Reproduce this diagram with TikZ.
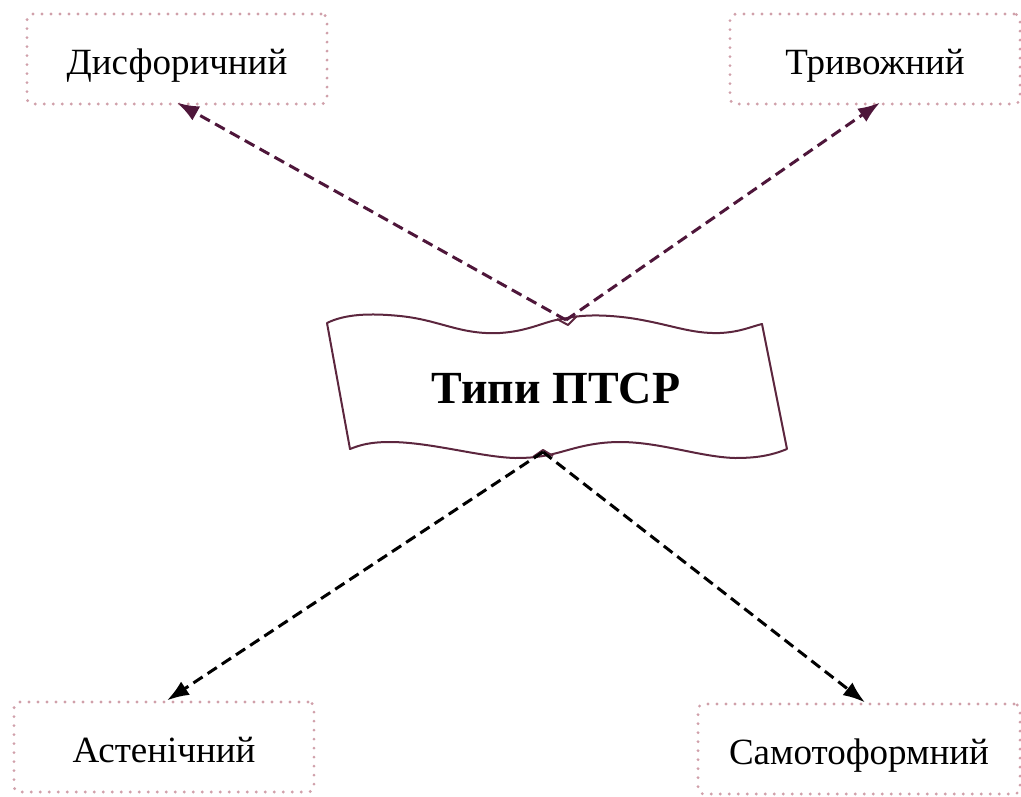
\documentclass[tikz,border=0pt]{standalone}
\usepackage{fontspec}
\setmainfont{Liberation Serif}
\usetikzlibrary{arrows.meta}
\definecolor{wine}{RGB}{78,22,58}
\definecolor{dotpink}{RGB}{208,160,170}
\definecolor{tapeline}{RGB}{92,38,62}

\begin{document}
\begin{tikzpicture}[x=1pt, y=-1pt,
    box/.style={rectangle, rounded corners=6pt, draw=dotpink, line width=3.2pt,
                dash pattern=on 0pt off 9pt, line cap=round,
                minimum height=90pt, inner sep=0pt,
                font=\fontsize{37}{42}\selectfont, text height=31pt, text depth=0pt},
    tape/.style={draw=tapeline, line width=2pt, line join=round},
    arr/.style={-{Latex[length=22pt,width=16pt]}, line width=3pt,
                dash pattern=on 11pt off 6pt},
  ]
  \useasboundingbox (0,0) rectangle (1021,796);

  % wavy banner in the middle
  \draw[tape] (327,323) .. controls (345,314) and (370,313) .. (400,316)
      .. controls (440,320) and (460,335) .. (500,333)
      .. controls (530,331) and (545,321) .. (562,319)
      .. controls (580,315) and (600,314) .. (630,318)
      .. controls (670,324) and (690,334) .. (720,333)
      .. controls (740,332) and (750,327) .. (762,324)
      -- (787,449)
      .. controls (770,456) and (755,458) .. (735,458)
      .. controls (700,457) and (660,442) .. (620,442)
      .. controls (590,442) and (570,450) .. (553,454)
      .. controls (540,457) and (530,458) .. (515,458)
      .. controls (480,457) and (430,442) .. (390,442)
      .. controls (370,442) and (360,445) .. (350,449) -- cycle;
  \draw[tape] (557,319) -- (568,325) -- (577,316);
  \draw[tape] (533,457) -- (543,450) -- (553,456);
  \node[font=\fontsize{46}{50}\selectfont\bfseries, anchor=base] (ptsr) at (556,403) {Типи ПТСР};

  \coordinate (top) at (566,320);
  \coordinate (bot) at (543,452);

  \node[box, minimum width=300pt] (disf) at (177,59)  {Дисфоричний};
  \node[box, minimum width=290pt] (triv) at (875,59)  {Тривожний};
  \node[box, minimum width=300pt] (ast)  at (164,747) {Астенічний};
  \node[box, minimum width=322pt] (sam)  at (859,749) {Самотоформний};

  \draw[arr, wine] (top) -- ([yshift=3pt]disf.south);
  \draw[arr, wine] (top) -- ([xshift=5pt, yshift=3pt]triv.south);
  \draw[arr] (bot) -- ([xshift=3pt]ast.north);
  \draw[arr] (bot) -- ([xshift=6pt]sam.north);
\end{tikzpicture}
\end{document}
